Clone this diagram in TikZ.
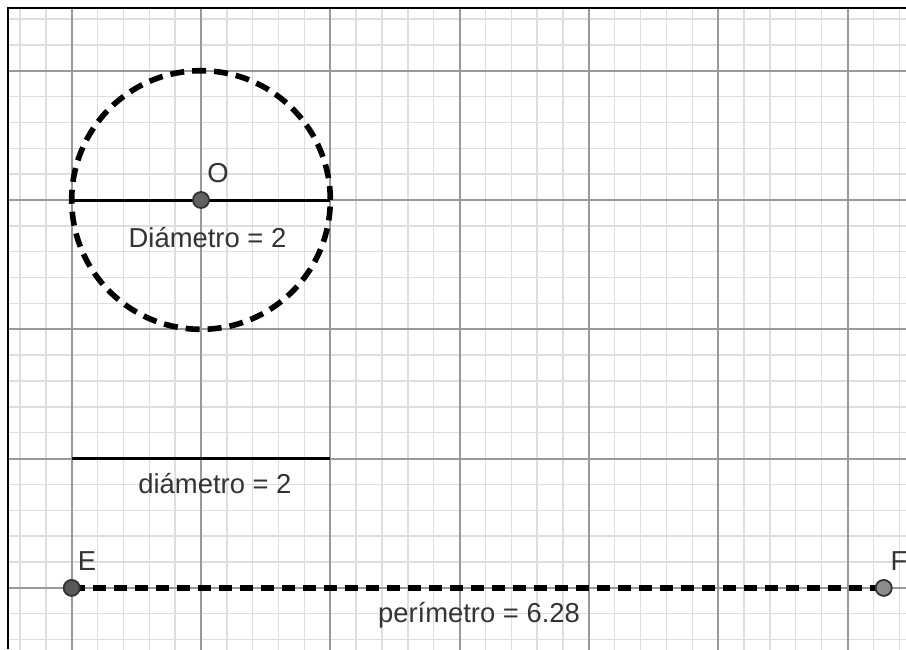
\documentclass[tikz,border=0pt]{standalone}
\usepackage{fontspec}
\setmainfont{Liberation Sans}
\begin{document}
\begin{tikzpicture}[x=64.65pt,y=64.65pt,
  minorgrid/.style={draw=black!13,line width=0.7pt},
  majorgrid/.style={draw=black!40,line width=1pt},
  pt/.style={circle,draw=black!80,line width=0.9pt,inner sep=0pt,minimum size=8pt},
  lbl/.style={font=\fontsize{13.7}{16}\selectfont,text=black!80,inner sep=0pt},
  solidseg/.style={line width=1.5pt,black},
  dashseg/.style={line width=2.8pt,black,dash pattern=on 6.5pt off 4pt}]
\useasboundingbox (-1.5545,-3.4725) rectangle (5.4524,1.5468);
\fill[white] (-1.5545,-3.4725) rectangle (5.4524,1.5468);
\begin{scope}
\clip (-1.4927,-3.4725) rectangle (5.4524,1.4849);
\draw[minorgrid] (-1.6,-3.6) grid[step=0.2] (5.6,1.6);
\draw[majorgrid] (-2,-4) grid[step=1] (6,2);
\end{scope}
\draw[line width=1.25pt,black] (-1.4927,-3.4725) -- (-1.4927,1.4849) -- (5.4524,1.4849);
% circle
\coordinate (O) at (0,0);
\draw[dashseg,dash pattern=on 7pt off 4pt] (O) circle[radius=1];
\coordinate (A) at (-1,0);
\coordinate (B) at (1,0);
\draw[solidseg] (A) -- (B);
\node[pt,fill=black!62] (Opt) at (O) {};
\node[lbl,anchor=base] (Olbl) at (0.131,0.139) {O};
\node[lbl,anchor=base] (dlbl) at (0.050,-0.3635) {Diámetro = 2};
% diameter segment
\coordinate (C) at (-1,-2);
\coordinate (D) at (1,-2);
\draw[solidseg] (C) -- (D);
\node[lbl,anchor=base] (d2lbl) at (0.108,-2.266) {diámetro = 2};
% perimeter
\coordinate (Ec) at (-1,-3);
\coordinate (Fc) at (5.28,-3);
\draw[dashseg] (Ec) -- (Fc);
\node[pt,fill=black!65] (E) at (Ec) {};
\node[pt,fill=black!45] (F) at (Fc) {};
\node[lbl,anchor=base] (Elbl) at (-0.882,-2.862) {E};
\node[lbl,anchor=base west] (Flbl) at (5.33,-2.862) {F};
\node[lbl,anchor=base] (plbl) at (2.150,-3.271) {perímetro = 6.28};
\end{tikzpicture}
\end{document}
